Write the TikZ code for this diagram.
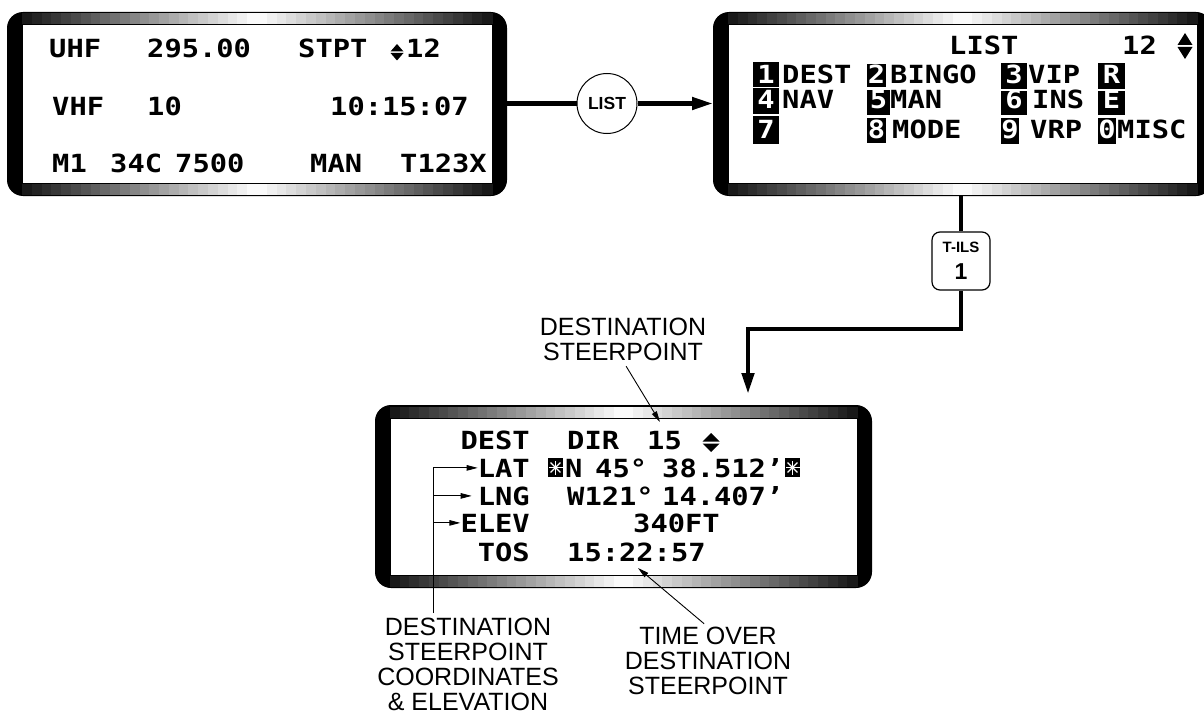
\documentclass[tikz,border=0pt]{standalone}
\usepackage{fontspec}
\setmainfont{Liberation Sans}
\newfontfamily\lcdfamily[FakeStretch=1.15]{DejaVu Sans Mono}
\usetikzlibrary{arrows.meta, positioning, fit, calc}

\newcommand\lcd{\lcdfamily\bfseries\fontsize{25}{25}\selectfont}
\newcommand\lbl{\fontsize{25}{25}\selectfont}

% shaded band: left, right, top, bottom
\newcommand\cniband[4]{%
  \pgfmathsetmacro\gl{#1}
  \pgfmathsetmacro\gs{((#2)-(#1))/48}
  \foreach \i in {0,...,47} {
    \pgfmathsetmacro\gx{\gl+\gs*\i}
    \pgfmathsetmacro\gd{92*abs((\i+0.5)/24-1)}
    \fill[black!\gd] (\gx,#3) rectangle ++(\gs+0.6,{(#4)-(#3)});
  }}

% display frame: name, left, top, right, bottom (pixels, y down)
\newcommand\cniframe[5]{%
  \fill[black, rounded corners=16pt] (#2,#3) rectangle (#4,#5);
  \cniband{#2+15}{#4-15}{#3+1.5}{#3+12.5}
  \cniband{#2+15}{#4-15}{#5-12.5}{#5-1.5}
  \draw[fill=white, line width=1pt] (#2+15,#3+13) rectangle (#4-15,#5-13);
  \node[fit={(#2,#3) (#4,#5)}, inner sep=0pt, outer sep=0pt] (#1) {};}

% up/down arrows: x centre, top, half width, triangle height, gap
\newcommand\updn[5]{%
  \fill (#1,#2) -- (#1+#3,#2+#4) -- (#1-#3,#2+#4) -- cycle;
  \fill (#1-#3,#2+#4+#5) -- (#1+#3,#2+#4+#5) -- (#1,#2+2*#4+#5) -- cycle;}

% inverse key: name, left, right, top, bottom, baseline, label
\newcommand\invkey[7]{%
  \fill (#2,#4) rectangle (#3,#5);
  \node[lcd, anchor=base, text=white] (#1) at ({(#2+#3)/2},#6) {#7};}

% marked field: x centre, y centre
\newcommand\starkey[2]{%
  \fill (#1-7.5,#2-9.5) rectangle (#1+7.5,#2+9.5);
  \foreach \a in {0,45,90,135}
    \draw[white, line width=1.3pt] (#1,#2) +(\a:7) -- +(\a+180:7);}

\begin{document}
\begin{tikzpicture}[x=1pt, y=-1pt,
    lcd/.style={font=\lcd, inner sep=0pt, anchor=base west},
    lcdr/.style={lcd, anchor=base east},
    flow/.style={line width=4.5pt},
    flowarr/.style={flow, -{Triangle[length=21pt,width=12pt]}},
    lead/.style={line width=0.9pt, -{Triangle[length=11pt,width=5.5pt]}},
    note/.style={font=\lbl, align=center, inner sep=0pt, anchor=north},
    keycirc/.style={circle, draw, fill=white, line width=1pt, minimum size=60pt,
                    inner sep=0pt, font=\bfseries\fontsize{17.5}{17.5}\selectfont},
    keybox/.style={draw, fill=white, rounded corners=8pt, line width=1.2pt,
                   minimum width=58pt, minimum height=58pt, inner sep=0pt,
                   align=center, font=\bfseries\fontsize{15}{18}\selectfont}
  ]
  \useasboundingbox (0,0) rectangle (1204,717);

  \cniframe{upc}{7}{12}{507}{196}
  \cniframe{listpg}{713}{12}{1212}{196}
  \cniframe{destpg}{375}{405}{872}{588}

  % up front controls page
  \node[lcd] (uhf) at (49,58) {UHF};
  \node[lcd] (uhffreq) at (147,58) {295.00};
  \node[lcd] (stpt) at (298,58) {STPT};
  \updn{397}{44}{6.5}{7.5}{1.5}
  \node[lcd] (stptnum) at (406,58) {12};
  \node[lcd] (vhf) at (52,115) {VHF};
  \node[lcd] (vhffreq) at (147,115) {10};
  \node[lcd] (clock) at (330,115) {10:15:07};
  \node[lcd] (iffmode) at (52,172) {M1};
  \node[lcd] (iffcode) at (110,172) {34C};
  \node[lcd] (squawk) at (175,172) {7500};
  \node[lcd] (man) at (310,172) {MAN};
  \node[lcd] (tacan) at (400,172) {T123X};

  % list page
  \node[lcd] (listtitle) at (949,55) {LIST};
  \node[lcd] (listnum) at (1122,55) {12};
  \updn{1185}{33}{7.5}{12}{2}
  \invkey{k1}{753}{779}{62}{87}{83}{1}
  \invkey{k4}{753}{779}{88}{114}{108}{4}
  \invkey{k7}{753}{779}{116}{144}{138}{7}
  \invkey{k2}{867}{886}{64}{87}{83}{2}
  \invkey{k5}{867}{890}{90}{115}{108}{5}
  \invkey{k8}{867}{886}{118}{143}{138}{8}
  \invkey{k3}{1001}{1027}{63}{89}{83}{3}
  \invkey{k6}{1001}{1027}{91}{115}{108}{6}
  \invkey{k9}{1001}{1019}{118}{144}{138}{9}
  \invkey{kr}{1098}{1125}{63}{89}{83}{R}
  \invkey{ke}{1098}{1125}{91}{115}{108}{E}
  \invkey{k0}{1098}{1116}{118}{144}{138}{0}
  \node[lcd] (lsdest) at (782,83) {DEST};
  \node[lcd] (lsbingo) at (890,83) {BINGO};
  \node[lcd] (lsvip) at (1028,83) {VIP};
  \node[lcd] (lsnav) at (782,108) {NAV};
  \node[lcd] (lsman) at (890,108) {MAN};
  \node[lcd] (lsins) at (1032,108) {INS};
  \node[lcd] (lsmode) at (892,138) {MODE};
  \node[lcd] (lsvrp) at (1030,138) {VRP};
  \node[lcd] (lsmisc) at (1117,138) {MISC};

  % destination page
  \node[lcdr] (dpdest) at (530,449) {DEST};
  \node[lcd] (dpdir) at (567,449) {DIR};
  \node[lcd] (dpnum) at (647,449) {15};
  \updn{711}{433}{8.5}{8.5}{2}
  \node[lcdr] (lat) at (530,477) {LAT};
  \starkey{555.5}{467.5}
  \node[lcd] (latns) at (565,477) {N};
  \node[lcd] (latdeg) at (595,477) {45°};
  \node[lcd] (latmin) at (662,477) {38.512’};
  \starkey{792.5}{467.5}
  \node[lcdr] (lng) at (530,505) {LNG};
  \node[lcd] (lngdeg) at (567,505) {W121°};
  \node[lcd] (lngmin) at (662,505) {14.407’};
  \node[lcdr] (elev) at (530,532) {ELEV};
  \node[lcd] (elevft) at (633,532) {340FT};
  \node[lcdr] (tos) at (530,561) {TOS};
  \node[lcd] (tostime) at (567,561) {15:22:57};

  % keys and flow
  \node[keycirc] (listkey) at (607,103.5) {LIST};
  \draw[flow] (upc.east |- listkey) -- (listkey);
  \draw[flowarr] (listkey) -- (listkey -| listpg.west);
  \node[keybox] (tilskey) at (961,261) {T-ILS\\[9pt]\fontsize{23}{23}\selectfont 1};
  \draw[flow] (listpg.south -| tilskey) -- (tilskey);
  \coordinate (bend) at (748,329);
  \coordinate (droptip) at (748,394);
  \draw[flowarr] (tilskey) |- (bend) -- (droptip);

  % callouts
  \node[note] (dsnote) at (623,318) {DESTINATION\\STEERPOINT};
  \coordinate (dstip) at (660,422);
  \draw[lead, shorten <=6pt] (dsnote.south) -- (dstip);

  \node[note] (coordnote) at (468,618) {DESTINATION\\STEERPOINT\\COORDINATES\\\& ELEVATION};
  \coordinate (spine) at (433,467);
  \draw[line width=0.9pt, shorten <=5pt] (coordnote.north -| spine) -- (spine |- lat.west);
  \draw[lead] (spine |- lat.west) -- (lat.west);
  \draw[lead, shorten >=6pt] (spine |- lng.west) -- (lng.west);
  \draw[lead] (spine |- elev.west) -- (elev.west);

  \node[note] (tosnote) at (708,627) {TIME OVER\\DESTINATION\\STEERPOINT};
  \coordinate (tostip) at (638,568);
  \draw[lead, shorten <=5pt] (tosnote.north) -- (tostip);
\end{tikzpicture}
\end{document}
